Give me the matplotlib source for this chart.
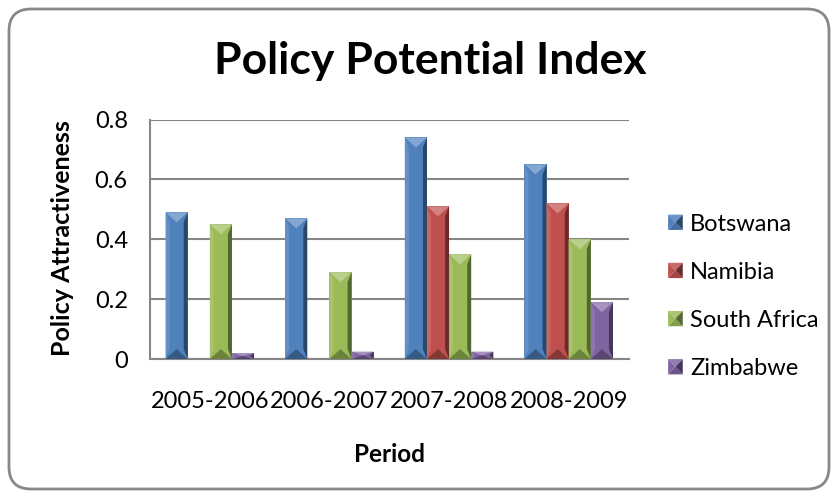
import matplotlib

matplotlib.use("Agg")
import matplotlib.pyplot as plt
import numpy as np
from matplotlib.patches import FancyBboxPatch, Polygon, Rectangle
from matplotlib.legend_handler import HandlerBase
from matplotlib.transforms import IdentityTransform
from matplotlib.colors import to_rgb

periods = ["2005-2006", "2006-2007", "2007-2008", "2008-2009"]
countries = ["Botswana", "Namibia", "South Africa", "Zimbabwe"]
botswana = [0.49, 0.47, 0.74, 0.65]
namibia = [0.0, 0.0, 0.51, 0.52]
south_africa = [0.45, 0.29, 0.35, 0.40]
zimbabwe = [0.02, 0.025, 0.025, 0.19]
colors = ["#4F81BD", "#C0504D", "#9BBB59", "#8064A2"]

plt.rcParams["font.family"] = ["Lato", "DejaVu Sans"]


def shade(color, factor):
    """Lighten (factor > 0) or darken (factor < 0) a colour."""
    rgb = np.array(to_rgb(color))
    if factor >= 0:
        return tuple(rgb + (1 - rgb) * factor)
    return tuple(rgb * (1 + factor))


def bevel(ax, patch, color, px_per_unit):
    """Draw an Excel-style angled bevel over one bar."""
    x0, w, h = patch.get_x(), patch.get_width(), patch.get_height()
    if h <= 0:
        return
    x1, xc = x0 + w, x0 + w / 2
    d = min(10 / px_per_unit, h / 2)
    edge = w * 0.18
    # side facets
    ax.add_patch(Polygon([(x0, 0), (x0 + edge, d), (x0 + edge, h - d), (x0, h)],
                         closed=True, facecolor=shade(color, 0.12), lw=0, zorder=3))
    ax.add_patch(Polygon([(x1, 0), (x1 - edge, d), (x1 - edge, h - d), (x1, h)],
                         closed=True, facecolor=shade(color, -0.45), lw=0, zorder=3))
    # top and bottom facets
    ax.add_patch(Polygon([(x0, h), (x1, h), (xc, h - d)], closed=True,
                         facecolor=shade(color, 0.3), lw=0, zorder=3))
    ax.add_patch(Polygon([(x0, 0), (x1, 0), (xc, d)], closed=True,
                         facecolor=shade(color, -0.3), lw=0, zorder=3))


class BevelSquare(HandlerBase):
    """Legend key drawn as a small pyramid-bevelled square."""

    def create_artists(self, legend, orig_handle, xdescent, ydescent, width,
                       height, fontsize, trans):
        color = orig_handle.get_facecolor()
        x0, y0 = -xdescent, -ydescent
        x1, y1 = x0 + width, y0 + height
        xc, yc = (x0 + x1) / 2, (y0 + y1) / 2
        faces = [
            ([(x0, y0), (x1, y0), (xc, yc)], shade(color, -0.15)),
            ([(x0, y1), (x1, y1), (xc, yc)], shade(color, 0.15)),
            ([(x0, y0), (x0, y1), (xc, yc)], shade(color, 0.0)),
            ([(x1, y0), (x1, y1), (xc, yc)], shade(color, -0.45)),
        ]
        return [Polygon(pts, closed=True, facecolor=fc, lw=0, transform=trans)
                for pts, fc in faces]


fig = plt.figure(figsize=(8.38, 4.98), dpi=100)
ax = fig.add_axes([0.179, 0.279, 0.571, 0.481])

frame = FancyBboxPatch((9, 9), 820, 480, boxstyle="round,pad=0,rounding_size=22",
                       transform=IdentityTransform(), facecolor="white",
                       edgecolor="#888888", linewidth=2, zorder=-10)
fig.patches.append(frame)

x = np.arange(len(periods))
width = 0.185
series = [botswana, namibia, south_africa, zimbabwe]
px_per_unit = 0.481 * 498 / 0.8

for i, (vals, name, color) in enumerate(zip(series, countries, colors)):
    bars = ax.bar(x + (i - 1.5) * width, vals, width, color=color, label=name, zorder=2)
    for patch in bars:
        bevel(ax, patch, color, px_per_unit)

ax.set_ylim(0, 0.8)
ax.set_xlim(-0.5, len(periods) - 0.5)
ax.set_yticks([0, 0.2, 0.4, 0.6, 0.8])
ax.set_yticklabels(["0", "0.2", "0.4", "0.6", "0.8"])
ax.set_xticks(x)
ax.set_xticklabels(periods)
ax.tick_params(axis="both", length=0, labelsize=17)
ax.tick_params(axis="y", pad=16)
ax.tick_params(axis="x", pad=23)
ax.grid(axis="y", color="#868686", linewidth=1.5, zorder=0)
ax.set_axisbelow(True)
for side in ["top", "right"]:
    ax.spines[side].set_visible(False)
for side in ["left", "bottom"]:
    ax.spines[side].set_color("#868686")
    ax.spines[side].set_linewidth(1.5)

fig.text(0.514, 0.878, "Policy Potential Index", ha="center", va="center",
         fontsize=32, fontweight="bold")
fig.text(0.074, 0.521, "Policy Attractiveness", ha="center", va="center",
         rotation=90, fontsize=18, fontweight="bold")
fig.text(0.465, 0.088, "Period", ha="center", va="center",
         fontsize=17.5, fontweight="bold")

handles = [Rectangle((0, 0), 1, 1, facecolor=c) for c in colors]
fig.legend(handles, countries, loc="center left", bbox_to_anchor=(0.786, 0.405),
           frameon=False, fontsize=17, handlelength=0.62, handleheight=0.62,
           handletextpad=0.3, labelspacing=1.15, borderaxespad=0,
           handler_map={Rectangle: BevelSquare()})

fig.savefig("out.png", dpi=100)
